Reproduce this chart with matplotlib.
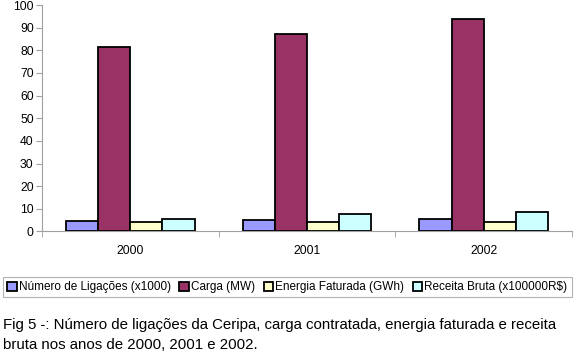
import matplotlib
matplotlib.use("Agg")
import matplotlib.pyplot as plt
import numpy as np

plt.rcParams['font.family'] = ['Liberation Sans', 'DejaVu Sans']

years = ["2000", "2001", "2002"]
series_names = ["Número de Ligações (x1000)", "Carga (MW)",
                "Energia Faturada (GWh)", "Receita Bruta (x100000R$)"]
ligacoes = [4.7, 5.0, 5.4]
carga = [81.6, 87.0, 93.8]
energia = [4.3, 4.4, 4.4]
receita = [5.4, 7.6, 8.8]
colors = ["#9999FF", "#993366", "#FFFFCC", "#CCFFFF"]
caption = ("Fig 5 -: Número de ligações da Ceripa, carga contratada, energia faturada e receita\n"
           "bruta nos anos de 2000, 2001 e 2002.")

W, H = 577, 362
fig = plt.figure(figsize=(W/100, H/100), dpi=100)
ax = fig.add_axes([42/W, 1-231.5/H, (572-42)/W, (231.5-5)/H])

data = [ligacoes, carga, energia, receita]
x = np.arange(len(years))
bw = 0.182
for i, (vals, c) in enumerate(zip(data, colors)):
    ax.bar(x + (i - 1.5) * bw, vals, width=bw, color=c, edgecolor="black",
           linewidth=1.3, label=series_names[i], zorder=3)

ax.set_xlim(-0.5, 2.5)
ax.set_ylim(0, 100)
ax.set_yticks(range(0, 101, 10))
ax.set_xticks(x)
ax.set_xticklabels(years)
ax.set_xticks([-0.5, 0.5, 1.5, 2.5], minor=True)
ax.tick_params(axis='x', which='major', length=0, pad=10, labelsize=8.8)
ax.tick_params(axis='x', which='minor', length=4, color="#a0a0a0", direction='out')
ax.tick_params(axis='y', length=4, color="#a0a0a0", labelsize=8.8, pad=2)
for s in ["top", "right"]:
    ax.spines[s].set_visible(False)
for s in ["left", "bottom"]:
    ax.spines[s].set_color("#a0a0a0")
    ax.spines[s].set_linewidth(0.8)

leg = fig.legend(loc="upper left", bbox_to_anchor=(3/W, 1-277/H), ncol=4,
                 fontsize=8.5, frameon=True, fancybox=False, handlelength=0.8,
                 handleheight=0.8, handletextpad=0.2, columnspacing=0.7,
                 borderpad=0.35, borderaxespad=0)
leg.get_frame().set_edgecolor("#a0a0a0")
leg.get_frame().set_linewidth(0.8)

fig.text(3/W, 1-318/H, caption, fontsize=10.8, va="top", ha="left", linespacing=1.55)

fig.savefig("out.png", dpi=100)
